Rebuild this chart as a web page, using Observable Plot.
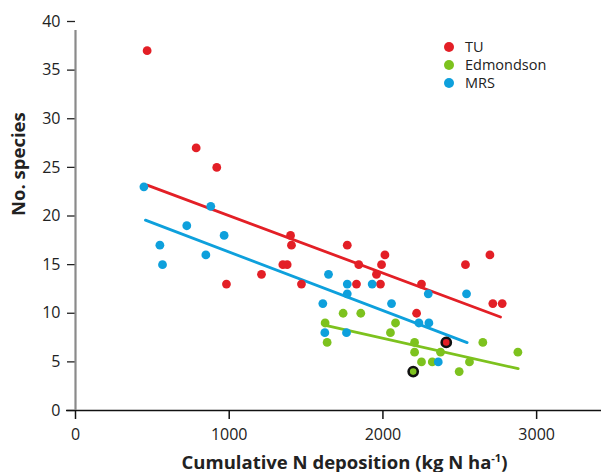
<!DOCTYPE html>
<html>
<head>
<meta charset="utf-8">
<script src="https://cdn.jsdelivr.net/npm/d3@7"></script>
<script src="https://cdn.jsdelivr.net/npm/@observablehq/plot@0.6"></script>
<style>
  html, body { margin: 0; padding: 0; background: #fff; }
  #wrap { position: relative; width: 601px; height: 472px; overflow: hidden; font-family: "Open Sans", sans-serif; color: #222; }
  #legend { position: absolute; left: 444px; top: 38px; font-size: 14.5px; line-height: 18px; }
  #legend div { display: flex; align-items: center; height: 18px; }
  #legend span.dot { display: inline-block; width: 10px; height: 10px; border-radius: 50%; margin-right: 11px; }
</style>
</head>
<body>
<div id="wrap"></div>
<script>
// ---- data ----
const seriesNames = ["TU", "Edmondson", "MRS"];
const seriesColors = ["#e31f26", "#7dc21e", "#0ea0dc"];

const tuX = [466, 785, 919, 982, 1210, 1349, 1377, 1399, 1405, 1470, 1768, 1843, 1828, 1958, 1984, 1991, 2013, 2219, 2251, 2537, 2696, 2715, 2776];
const tuY = [37, 27, 25, 13, 14, 15, 15, 18, 17, 13, 17, 15, 13, 14, 13, 15, 16, 10, 13, 15, 16, 11, 11];

const edX = [1624, 1637, 1741, 1856, 2049, 2082, 2206, 2206, 2251, 2321, 2375, 2496, 2563, 2650, 2878];
const edY = [9, 7, 10, 10, 8, 9, 7, 6, 5, 5, 6, 4, 5, 7, 6];

const mrsX = [445, 549, 566, 724, 848, 880, 967, 1609, 1622, 1646, 1763, 1768, 1768, 1930, 2056, 2234, 2295, 2299, 2360, 2544];
const mrsY = [23, 17, 15, 19, 16, 21, 18, 11, 8, 14, 8, 13, 12, 13, 11, 9, 12, 9, 5, 12];

// highlighted (outlined) points
const hlSeries = ["TU", "Edmondson"];
const hlX = [2412, 2197];
const hlY = [7, 4];

// fitted regression lines (end points)
const tuFitX = [466, 2765],  tuFitY = [23.17, 9.62];
const edFitX = [1627, 2880], edFitY = [8.76, 4.3];
const mrsFitX = [455, 2548], mrsFitY = [19.57, 6.98];

const xTicks = [0, 1000, 2000, 3000];
const yTicks = [0, 5, 10, 15, 20, 25, 30, 35, 40];
const xLabel = "Cumulative N deposition (kg N ha";
const xLabelSup = "-1";
const yLabel = "No. species";

// ---- build tables ----
const toRows = (s, xs, ys) => xs.map((x, i) => ({series: s, x, y: ys[i]}));
const points = [
  ...toRows("TU", tuX, tuY),
  ...toRows("Edmondson", edX, edY),
  ...toRows("MRS", mrsX, mrsY)
];
const fits = [
  ...toRows("TU", tuFitX, tuFitY),
  ...toRows("Edmondson", edFitX, edFitY),
  ...toRows("MRS", mrsFitX, mrsFitY)
];
const highlights = hlX.map((x, i) => ({series: hlSeries[i], x, y: hlY[i]}));

const plot = Plot.plot({
  width: 601,
  height: 472,
  marginLeft: 75,
  marginRight: 0,
  marginTop: 21,
  marginBottom: 62,
  style: {fontFamily: "Open Sans, sans-serif", fontSize: "16px", color: "#222", background: "#fff"},
  x: {domain: [0, 3422]},
  y: {domain: [0, 40]},
  color: {domain: seriesNames, range: seriesColors},
  marks: [
    Plot.axisY({ticks: yTicks, tickFormat: d => String(d), tickSize: 8, tickPadding: 7, label: null, stroke: "#222", strokeWidth: 1.3}),
    Plot.axisX({ticks: xTicks, tickFormat: d => String(d), tickSize: 9, tickPadding: 9, label: null, stroke: "#111", strokeWidth: 1.5}),
    Plot.ruleY([0], {stroke: "#111", strokeWidth: 1.5, insetLeft: -9}),
    Plot.ruleX([0], {y1: 0, y2: 40, stroke: "#8a8a8a", strokeWidth: 2.2, insetBottom: -9}),
    Plot.line(fits, {x: "x", y: "y", z: "series", stroke: "series", strokeWidth: 2.8}),
    Plot.dot(points, {x: "x", y: "y", fill: "series", r: 4.4, stroke: null}),
    Plot.dot(highlights, {x: "x", y: "y", fill: "series", r: 4.6, stroke: "#111", strokeWidth: 2.6}),
    Plot.text([yLabel], {frameAnchor: "left", rotate: -90, dx: -56, fontWeight: "bold", fontSize: 18.5, fill: "#222"}),
    Plot.text([xLabel], {frameAnchor: "bottom", lineAnchor: "bottom", dy: 58, dx: 6, fontWeight: "bold", fontSize: 18.5, fill: "#222", className: "xlab"})
  ]
});

// superscript in x label
const xl = plot.querySelector(".xlab text");
if (xl) {
  xl.textContent = "";
  const ns = "http://www.w3.org/2000/svg";
  const t1 = document.createElementNS(ns, "tspan"); t1.textContent = xLabel;
  const t2 = document.createElementNS(ns, "tspan"); t2.textContent = xLabelSup;
  t2.setAttribute("dy", "-7"); t2.setAttribute("font-size", "11");
  const t3 = document.createElementNS(ns, "tspan"); t3.textContent = ")"; t3.setAttribute("dy", "7");
  xl.append(t1, t2, t3);
}

const wrap = document.getElementById("wrap");
wrap.appendChild(plot);

const legend = document.createElement("div");
legend.id = "legend";
seriesNames.forEach((n, i) => {
  const row = document.createElement("div");
  const dot = document.createElement("span");
  dot.className = "dot";
  dot.style.background = seriesColors[i];
  row.appendChild(dot);
  row.appendChild(document.createTextNode(n));
  legend.appendChild(row);
});
wrap.appendChild(legend);
</script>
</body>
</html>
